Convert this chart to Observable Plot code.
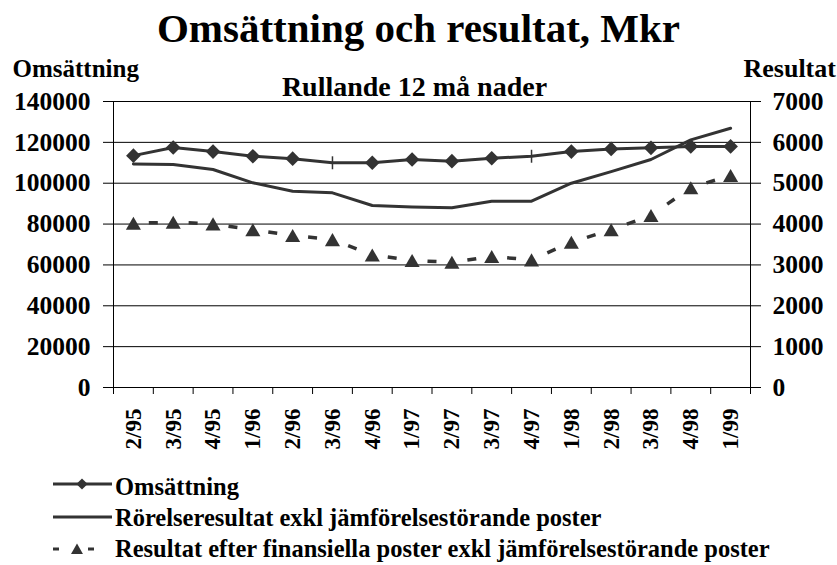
<!DOCTYPE html>
<html><head><meta charset="utf-8">
<script src="https://cdn.jsdelivr.net/npm/d3@7"></script>
<script src="https://cdn.jsdelivr.net/npm/@observablehq/plot@0.6"></script>
<style>
html,body{margin:0;padding:0;background:#fff;}
body{width:837px;height:565px;position:relative;overflow:hidden;font-family:"Times New Roman","Liberation Serif","DejaVu Serif",serif;font-weight:bold;color:#000;}
#title{position:absolute;left:0;width:837px;top:8px;text-align:center;font-size:41px;line-height:1;white-space:nowrap;}
#chart{position:absolute;left:0;top:55px;}
.legtext{position:absolute;left:115px;font-size:24.5px;line-height:1;white-space:nowrap;}
.legsw{position:absolute;left:50px;}
</style></head>
<body>
<div id="title">Omsättning och resultat, Mkr</div>
<div id="chart"></div>
<div id="legend"></div>
<script>
const categories = ["2/95","3/95","4/95","1/96","2/96","3/96","4/96","1/97","2/97","3/97","4/97","1/98","2/98","3/98","4/98","1/99"];
const omsattning = [113500,117500,115500,113200,112000,110000,110000,111600,110800,112200,113200,115500,116800,117300,118000,118000];
const rorelseresultat = [5470,5460,5335,5010,4805,4765,4455,4420,4400,4560,4560,5000,5285,5580,6060,6345];
const resultatEfterFin = [4020,4045,4005,3860,3720,3620,3245,3110,3065,3205,3125,3555,3860,4210,4890,5190];
const leftTicks = [0,20000,40000,60000,80000,100000,120000,140000];
const rightTicks = [0,1000,2000,3000,4000,5000,6000,7000];
const missingMarker = ["3/96","4/97"];
const seriesNames = ["Omsättning","Rörelseresultat exkl jämförelsestörande poster","Resultat efter finansiella poster exkl jämförelsestörande poster"];
const leftAxisTitle = "Omsättning";
const rightAxisTitle = "Resultat";
const subtitle = "Rullande 12 må nader";

const FONT = "'Times New Roman','Liberation Serif','DejaVu Serif',serif";
const ratio = leftTicks[leftTicks.length-1] / rightTicks[rightTicks.length-1];
const ink = "#333333";
const data = categories.map((c,i)=>({i, c, oms: omsattning[i], rr: rorelseresultat[i], rf: resultatEfterFin[i]}));
const segs = d3.pairs(data);
const boundaries = d3.range(categories.length+1).map(k=>k-0.5);
const tickSym = {draw(ctx, size){ const h = Math.sqrt(size/Math.PI)*1.2; ctx.moveTo(0,-h); ctx.lineTo(0,h); }};
const DASH = 9;

const chart = Plot.plot({
  width: 837, height: 410,
  marginTop: 46, marginBottom: 78, marginLeft: 113, marginRight: 87,
  style: {fontFamily: FONT, color: "#000", background: "transparent", overflow: "visible"},
  x: {type: "linear", domain: [-0.5, categories.length-0.5]},
  y: {domain: [0, leftTicks[leftTicks.length-1]]},
  marks: [
    Plot.ruleY(leftTicks, {stroke: "#000", strokeWidth: 1}),
    Plot.frame({stroke: "#000", strokeWidth: 1}),
    Plot.axisY({anchor: "left", ticks: leftTicks, tickFormat: d => String(d), tickSize: 10, tickPadding: 13, fontSize: 25.5, fontWeight: "bold", fontFamily: FONT, label: null}),
    Plot.axisY({anchor: "right", ticks: rightTicks.map(v => v*ratio), tickFormat: d => String(Math.round(d/ratio)), tickSize: 10, tickPadding: 12, fontSize: 25.5, fontWeight: "bold", fontFamily: FONT, label: null}),
    Plot.axisX({ticks: boundaries, tickFormat: () => "", tickSize: 7, label: null}),
    Plot.axisX({ticks: d3.range(categories.length), tickFormat: i => categories[i], tickRotate: -90, tickSize: 0, tickPadding: 21, fontSize: 23, fontWeight: "bold", fontFamily: FONT, label: null}),
    Plot.text([leftAxisTitle], {text: d => d, frameAnchor: "top-left", dx: -101, dy: -25, textAnchor: "start", lineAnchor: "bottom", fontSize: 25, fontWeight: "bold", fontFamily: FONT, fill: "#000"}),
    Plot.text([rightAxisTitle], {text: d => d, frameAnchor: "top-right", dx: -7, dy: -25, textAnchor: "start", lineAnchor: "bottom", fontSize: 26, fontWeight: "bold", fontFamily: FONT, fill: "#000"}),
    Plot.text([subtitle], {text: d => d, frameAnchor: "top", dx: -17.5, dy: -6, textAnchor: "middle", lineAnchor: "bottom", fontSize: 28, fontWeight: "bold", fontFamily: FONT, fill: "#000"}),
    // Rörelseresultat
    Plot.line(data, {x: "i", y: d => d.rr*ratio, stroke: ink, strokeWidth: 3}),
    // Resultat efter finansiella poster: one dash per segment
    Plot.link(segs, {
      x1: ([a]) => a.i, y1: ([a]) => a.rf*ratio, x2: ([,b]) => b.i, y2: ([,b]) => b.rf*ratio,
      stroke: ink, strokeWidth: 3.5,
      render(index, scales, values, dims, ctx, next) {
        const g = next(index, scales, values, dims, ctx);
        const paths = g.querySelectorAll("path");
        paths.forEach((p, j) => {
          const i = index[j];
          const L = Math.hypot(values.x2[i]-values.x1[i], values.y2[i]-values.y1[i]);
          p.setAttribute("stroke-dasharray", `${DASH} ${L}`);
          p.setAttribute("stroke-dashoffset", `${-(L-DASH)/2}`);
        });
        return g;
      }
    }),
    Plot.dot(data, {x: "i", y: d => d.rf*ratio, symbol: "triangle", r: 5.6, dy: 2.2, fill: ink, stroke: "none"}),
    // Omsättning
    Plot.line(data, {x: "i", y: "oms", stroke: ink, strokeWidth: 3}),
    Plot.dot(data.filter(d => !missingMarker.includes(d.c)), {x: "i", y: "oms", symbol: "diamond2", r: 6.6, fill: ink, stroke: "none"}),
    Plot.dot(data.filter(d => missingMarker.includes(d.c)), {x: "i", y: "oms", symbol: tickSym, r: 5.4, fill: "none", stroke: ink, strokeWidth: 1.5})
  ]
});
document.getElementById("chart").appendChild(chart);

// Legend
const legend = d3.select("#legend");
const rows = [
  {name: seriesNames[0], cy: 484, base: 495, kind: "diamond"},
  {name: seriesNames[1], cy: 517, base: 526, kind: "line"},
  {name: seriesNames[2], cy: 549, base: 557, kind: "dashtri"}
];
rows.forEach(r => {
  const sw = legend.append("svg").attr("class","legsw").attr("width", 66).attr("height", 20)
    .style("top", (r.cy-10)+"px");
  if (r.kind === "diamond" || r.kind === "line") {
    sw.append("line").attr("x1", 3).attr("x2", 62).attr("y1", 10).attr("y2", 10).attr("stroke", ink).attr("stroke-width", 3);
  }
  if (r.kind === "diamond") {
    sw.append("path").attr("d", d3.symbol(d3.symbolDiamond2, 80)()).attr("transform","translate(32,10)").attr("fill", ink);
  }
  if (r.kind === "dashtri") {
    sw.append("line").attr("x1", 3).attr("x2", 9).attr("y1", 10).attr("y2", 10).attr("stroke", ink).attr("stroke-width", 3);
    sw.append("line").attr("x1", 38).attr("x2", 44).attr("y1", 10).attr("y2", 10).attr("stroke", ink).attr("stroke-width", 3);
    sw.append("path").attr("d", d3.symbol(d3.symbolTriangle, 62)()).attr("transform","translate(27,11.5)").attr("fill", ink);
  }
  legend.append("div").attr("class","legtext").style("top", (r.base-20.5)+"px").text(r.name);
});
</script>
</body></html>
